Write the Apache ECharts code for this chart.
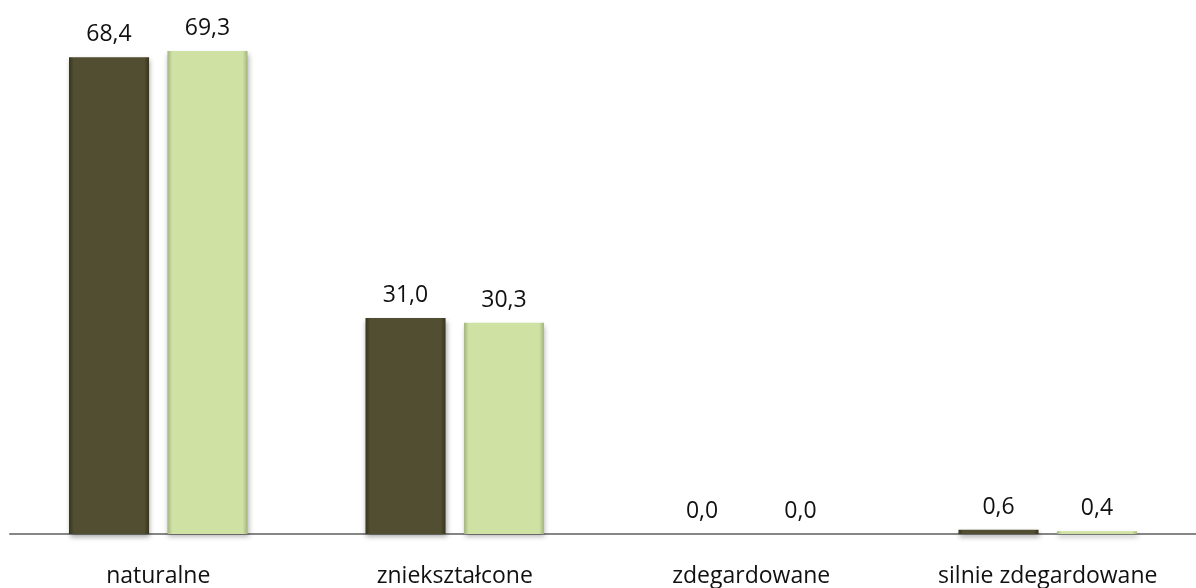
<!DOCTYPE html>
<html>
<head>
<meta charset="utf-8">
<script src="https://cdn.jsdelivr.net/npm/echarts@6/dist/echarts.min.js"></script>
<style>
html,body{margin:0;padding:0;background:#fff;}
#c{width:1196px;height:588px;}
</style>
</head>
<body>
<div id="c"></div>
<script>
const categories = ['naturalne', 'zniekształcone', 'zdegardowane', 'silnie zdegardowane'];
const seriesA = [68.4, 31.0, 0.0, 0.6];
const seriesB = [69.3, 30.3, 0.0, 0.4];

const FONT = 'Open Sans';
const chart = echarts.init(document.getElementById('c'), null, {renderer: 'canvas'});

function grad(edge, mid) {
  return new echarts.graphic.LinearGradient(0, 0, 1, 0, [
    {offset: 0, color: edge},
    {offset: 0.06, color: mid},
    {offset: 0.94, color: mid},
    {offset: 1, color: edge}
  ]);
}

const labelCfg = {
  show: true,
  position: 'top',
  distance: 11,
  fontFamily: FONT,
  fontSize: 23,
  color: '#111',
  formatter: p => p.value.toFixed(1).replace('.', ',')
};

chart.setOption({
  animation: false,
  grid: {left: 10, right: -14, top: 46, bottom: 54, containLabel: false},
  xAxis: {
    type: 'category',
    data: categories,
    axisLine: {show: true, lineStyle: {color: '#868686', width: 2}},
    axisTick: {show: false},
    axisLabel: {fontFamily: FONT, fontSize: 23, color: '#111', margin: 31, interval: 0}
  },
  yAxis: {type: 'value', min: 0, max: 70, show: false, splitLine: {show: false}},
  series: [
    {
      type: 'bar', data: seriesA, barWidth: '27%', barGap: '23%',
      itemStyle: {color: grad('#37351f', '#524e31'),
        shadowColor: 'rgba(0,0,0,0.35)', shadowBlur: 5, shadowOffsetX: 1, shadowOffsetY: 3},
      label: labelCfg
    },
    {
      type: 'bar', data: seriesB, barWidth: '27%',
      itemStyle: {color: grad('#a3b47f', '#d0e1a4'),
        shadowColor: 'rgba(0,0,0,0.3)', shadowBlur: 5, shadowOffsetX: 1, shadowOffsetY: 3},
      label: labelCfg
    }
  ]
});
</script>
</body>
</html>
